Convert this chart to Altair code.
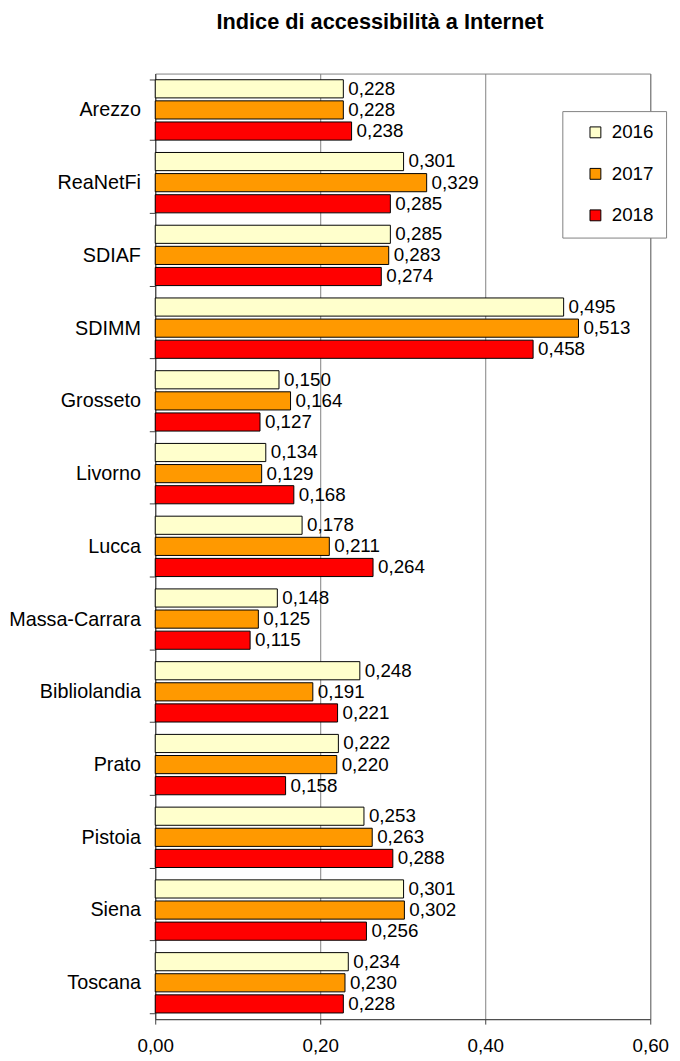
import altair as alt
import pandas as pd

categories = ["Arezzo", "ReaNetFi", "SDIAF", "SDIMM", "Grosseto", "Livorno", "Lucca",
              "Massa-Carrara", "Bibliolandia", "Prato", "Pistoia", "Siena", "Toscana"]
years = ["2016", "2017", "2018"]
colors = ["#FFFFCC", "#FF9900", "#FF0000"]
v2016 = [0.228, 0.301, 0.285, 0.495, 0.150, 0.134, 0.178, 0.148, 0.248, 0.222, 0.253, 0.301, 0.234]
v2017 = [0.228, 0.329, 0.283, 0.513, 0.164, 0.129, 0.211, 0.125, 0.191, 0.220, 0.263, 0.302, 0.230]
v2018 = [0.238, 0.285, 0.274, 0.458, 0.127, 0.168, 0.264, 0.115, 0.221, 0.158, 0.288, 0.256, 0.228]
x_ticks = [0.0, 0.2, 0.4, 0.6]

rows = []
for yr, vals in zip(years, [v2016, v2017, v2018]):
    for c, v in zip(categories, vals):
        rows.append({"cat": c, "year": yr, "value": v,
                     "label": f"{v:.3f}".replace(".", ",")})
df = pd.DataFrame(rows)

FONT = "Liberation Sans"
FS = 19

base = alt.Chart(df).encode(
    y=alt.Y("cat:N", sort=categories,
            scale=alt.Scale(paddingInner=0.17, paddingOuter=0.085),
            axis=alt.Axis(title=None, tickBand="extent", tickSize=6, labelPadding=9,
                          domainColor="#404040", tickColor="#404040",
                          labelFont=FONT, labelFontSize=20, labelColor="black",
                          grid=False)),
    yOffset=alt.YOffset("year:N", sort=years,
                        scale=alt.Scale(paddingInner=0.14, paddingOuter=0)),
    x=alt.X("value:Q", scale=alt.Scale(domain=[0, 0.6], nice=False),
            axis=alt.Axis(title=None, values=x_ticks,
                          labelExpr="replace(format(datum.value, '.2f'), '.', ',')",
                          grid=True, gridColor="#808080", gridWidth=1,
                          tickSize=5, domainColor="#404040", tickColor="#404040",
                          labelFont=FONT, labelFontSize=FS, labelColor="black",
                          labelPadding=13, labelFlush=False)),
)

bars = base.mark_bar(stroke="black", strokeWidth=1).encode(
    color=alt.Color("year:N", sort=years,
                    scale=alt.Scale(domain=years, range=colors),
                    legend=alt.Legend(title=None, orient="none", legendX=412, legendY=38,
                                      padding=12, symbolOffset=12, rowPadding=22,
                                      symbolType="square", symbolSize=121,
                                      symbolStrokeColor="black", symbolStrokeWidth=1,
                                      labelFont=FONT, labelFontSize=FS, labelColor="black",
                                      labelOffset=7, strokeColor="#808080",
                                      fillColor="white"))
)

text = base.mark_text(align="left", baseline="middle", dx=5, font=FONT,
                      fontSize=FS, color="black").encode(text="label:N")

chart = alt.layer(bars, text).properties(
    width=501, height=957,
    padding={"left": 149, "top": 60, "right": 22, "bottom": 37},
    autosize=alt.AutoSizeParams(type="none"),
    title=alt.Title("Indice di accessibilità a Internet", font=FONT, fontSize=22,
                    fontWeight="bold", anchor="middle", dx=-23, offset=30,
                    color="black"),
).configure_view(stroke="#808080", strokeWidth=1)

chart.save("out.html", embed_options={"renderer": "svg", "actions": False})
